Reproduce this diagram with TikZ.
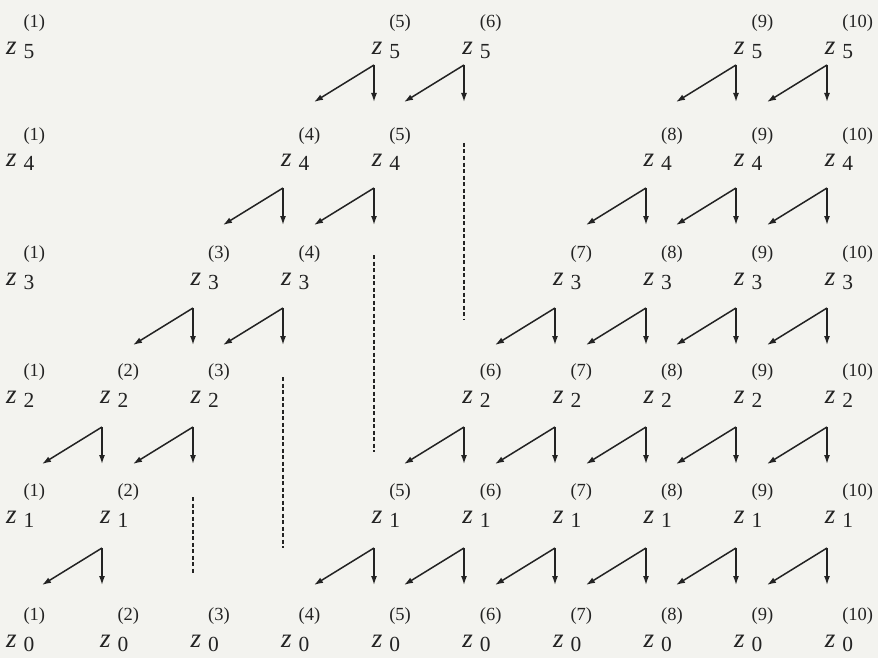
\documentclass[tikz,border=0pt]{standalone}
\usepackage{fontspec}
\setmainfont{Liberation Serif}
\usetikzlibrary{arrows.meta}
\definecolor{bg}{RGB}{243,243,239}
\definecolor{ink}{RGB}{35,35,35}
\newcommand\zlab[2]{%
  {\fontsize{27}{27}\selectfont\itshape z}\kern 7pt%
  \rlap{\raisebox{27pt}{\fontsize{18.5}{18.5}\selectfont(#2)}}%
  \raisebox{-4pt}{\fontsize{21.5}{21.5}\selectfont #1}}
\begin{document}
\begin{tikzpicture}[x=1pt,y=-1pt,
  lab/.style={anchor=base west,inner sep=0pt,outer sep=0pt,text=ink},
  arr/.style={draw=ink,line width=1.5pt,-{Latex[length=9pt,width=6pt]}},
  dotline/.style={draw=ink,line width=1.8pt,dash pattern=on 4pt off 2.5pt}]
\fill[bg] (0,0) rectangle (878,658);
\useasboundingbox (0,0) rectangle (878,658);
% labels
\foreach \r/\b/\cols in {5/55/{1,5,6,9,10},4/167/{1,4,5,8,9,10},3/285/{1,3,4,7,8,9,10},2/403/{1,2,3,6,7,8,9,10},1/523/{1,2,5,6,7,8,9,10},0/647/{1,2,3,4,5,6,7,8,9,10}}{
  \foreach \j in \cols {
    \pgfmathsetmacro\X{\j==1 ? 6 : 100+90.6*(\j-2)}
    \node[lab] (z\r-\j) at (\X,\b) {\zlab{\r}{\j}};
  }
}
% arrows
\foreach \r/\t/\cols in {5/65/{5,6,9,10},4/188/{4,5,8,9,10},3/308/{3,4,7,8,9,10},2/427/{2,3,6,7,8,9,10},1/548/{2,5,6,7,8,9,10}}{
  \foreach \j in \cols {
    \pgfmathsetmacro\X{round(102+90.6*(\j-2))}
    \coordinate (t\r-\j) at (\X,\t);
    \coordinate (v\r-\j) at (\X,\t+37);
    \coordinate (d\r-\j) at (\X-60,\t+37);
    \draw[arr] (t\r-\j) -- (v\r-\j);
    \draw[arr] (t\r-\j) -- (d\r-\j);
  }
}
% dashed continuation lines
\foreach \j/\ya/\yb in {6/143/320,5/255/452,4/377/548,3/497/573}{
  \pgfmathsetmacro\X{round(102+90.6*(\j-2))}
  \coordinate (ds\j) at (\X,\ya);
  \coordinate (de\j) at (\X,\yb);
  \draw[dotline] (ds\j) -- (de\j);
}
\end{tikzpicture}
\end{document}
